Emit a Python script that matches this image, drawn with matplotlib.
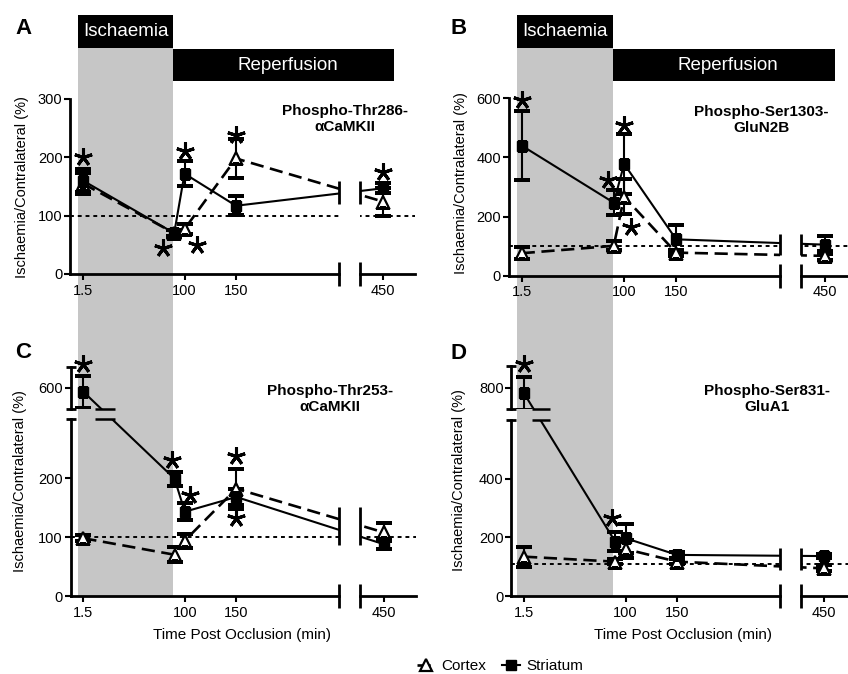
import numpy as np
import matplotlib.pyplot as plt
from matplotlib.patches import Rectangle
from matplotlib.path import Path
from matplotlib.transforms import blended_transform_factory

plt.rcParams['font.family'] = ['Liberation Sans', 'DejaVu Sans']

# time points (min post occlusion)
times = [1.5, 90, 100, 150, 450]
time_ticks = [1.5, 100, 150, 450]
time_labels = ['1.5', '100', '150', '450']

# A: Phospho-Thr286-aCaMKII
a_striatum = [160, 70, 172, 117, 147]
a_striatum_err = [20, 6, 22, 16, 9]
a_cortex = [155, 70, 77, 198, 124]
a_cortex_err = [18, 5, 8, 33, 24]
a_star_x = [1.5, 79, 100, 112, 150, 450]
a_star_y = [201, 45, 210, 50, 238, 174]

# B: Phospho-Ser1303-GluN2B
b_striatum = [440, 247, 378, 123, 105]
b_striatum_err = [118, 43, 100, 50, 30]
b_cortex = [76, 101, 267, 78, 67]
b_cortex_err = [20, 15, 60, 10, 15]
b_star_x = [1.5, 84, 100, 107]
b_star_y = [594, 324, 510, 166]

# C: Phospho-Thr253-aCaMKII
c_striatum = [593, 199, 143, 168, 88]
c_striatum_err = [27, 12, 14, 14, 8]
c_cortex = [98, 70, 94, 182, 108]
c_cortex_err = [5, 13, 12, 34, 15]
c_star_x = [1.5, 88, 105, 150, 150]
c_star_y = [641, 231, 172, 237, 132]

# D: Phospho-Ser831-GluA1
d_striatum = [780, 185, 197, 140, 136]
d_striatum_err = [57, 32, 50, 10, 8]
d_cortex = [134, 117, 160, 117, 94]
d_cortex_err = [34, 8, 30, 8, 10]
d_star_x = [1.5, 87]
d_star_y = [880, 265]

W, H = 848, 674
gray = '#c6c6c6'
fig = plt.figure(figsize=(W / 100, H / 100), dpi=100)


def make_break(lo, hi, gap):
    # squeeze the range lo..hi into a small gap on the axis
    def fwd(v):
        v = np.asarray(v, dtype=float)
        return np.where(v <= lo, v, np.where(v >= hi, v - (hi - lo) + gap,
                                              lo + (v - lo) * gap / (hi - lo)))

    def inv(u):
        u = np.asarray(u, dtype=float)
        return np.where(u <= lo, u, np.where(u >= lo + gap, u + (hi - lo) - gap,
                                              lo + (u - lo) * (hi - lo) / gap))
    return fwd, inv


def place(left, top, w, h):
    ax = fig.add_axes([left / W, 1 - (top + h) / H, w / W, h / H])
    ax.patch.set_visible(False)
    return ax


XMIN, XMAX = -11, 481
XGAP = (250, 345)


def panel(ax, striatum, striatum_err, cortex, cortex_err, star_x, star_y,
          yticks, ymax, ref, caps, ybreak=None, bar_x=None):
    ax.set_xscale('function', functions=make_break(250, 450, 43))
    ax.set_xlim(XMIN, XMAX)
    if ybreak:
        ax.set_yscale('function', functions=make_break(*ybreak))
    ax.set_ylim(0, ymax)

    ax.axhline(ref, color='k', lw=1.4, ls=(0, (2, 2)), zorder=1)
    ax.errorbar(times, cortex, yerr=cortex_err, fmt='none', ecolor='k',
                elinewidth=1.5, capsize=5.5, capthick=1.5, zorder=2)
    ax.errorbar(times, striatum, yerr=striatum_err, fmt='none', ecolor='k',
                elinewidth=1.5, capsize=5.5, capthick=1.5, zorder=2)
    lc, = ax.plot(times, cortex, color='k', ls=(0, (5, 2.5)), lw=1.9,
                  marker='^', ms=8.5, mfc='white', mec='k', mew=1.6,
                  zorder=3, label='Cortex')
    ls_, = ax.plot(times, striatum, color='k', ls='-', lw=1.5, marker='s',
                   ms=7, zorder=4, label='Striatum')

    # cut the data at the axis breaks
    yr = [(-5000, 5000)] if ybreak is None else [(-5000, ybreak[0]), (ybreak[1], 5000)]
    rects = [Path([(x0, y0), (x1, y0), (x1, y1), (x0, y1), (x0, y0)], closed=True)
             for x0, x1 in [(-5000, XGAP[0]), (XGAP[1], 5000)] for y0, y1 in yr]
    clip = Path.make_compound_path(*rects)
    for art in ax.lines + list(ax.collections):
        art.set_clip_path(clip, ax.transData)

    ax.plot(star_x, star_y, ls='none', marker=(5, 2, 0), ms=13, mew=2.2,
            color='k', clip_on=False, zorder=6)

    # hand-drawn axes with breaks
    for sp in ax.spines.values():
        sp.set_visible(False)
    ax.plot([XMIN, XGAP[0]], [0, 0], 'k-', lw=2, clip_on=False)
    ax.plot([XGAP[1], XMAX], [0, 0], 'k-', lw=2, clip_on=False)
    ax.plot(XGAP, [0, 0], ls='none', marker='|', ms=17, mew=2, color='k', clip_on=False)
    ax.vlines(XGAP, caps[0], caps[1], colors='k', lw=2, clip_on=False)
    if ybreak is None:
        ax.plot([XMIN, XMIN], [0, ymax], 'k-', lw=2, clip_on=False)
    else:
        ax.plot([XMIN, XMIN], [0, ybreak[0]], 'k-', lw=2, clip_on=False)
        ax.plot([XMIN, XMIN], [ybreak[1], ymax], 'k-', lw=2, clip_on=False)
        ax.plot([XMIN] * 3, [ybreak[0], ybreak[1], ymax], ls='none', marker='_',
                ms=7, mew=2, color='k', clip_on=False)
        ax.hlines(ybreak[:2], bar_x[0], bar_x[1], colors='k', lw=1.8, clip_on=False)

    ax.set_xticks(time_ticks)
    ax.set_xticklabels(time_labels)
    ax.minorticks_off()
    ax.set_yticks(yticks)
    ax.tick_params(direction='out', length=4, width=1.5, labelsize=10.5, pad=1.5)
    ax.tick_params(axis='x', pad=3)
    return lc, ls_


axA = place(70.2, 99, 345, 175)
axB = place(508.7, 98.3, 348.4, 177.4)
axC = place(70.5, 366.7, 345, 229.3)
axD = place(511.2, 366, 345, 230)

lc, ls_ = panel(axA, a_striatum, a_striatum_err, a_cortex, a_cortex_err,
                a_star_x, a_star_y, [0, 100, 200, 300], 300, 100, (120, 160))
panel(axB, b_striatum, b_striatum_err, b_cortex, b_cortex_err,
      b_star_x, b_star_y, [0, 200, 400, 600], 600, 100, (70, 140))
panel(axC, c_striatum, c_striatum_err, c_cortex, c_cortex_err,
      c_star_x, c_star_y, [0, 100, 200, 600], 635.6, 100, (86, 151),
      ybreak=(300, 563, 16.4), bar_x=(13, 32))
panel(axD, d_striatum, d_striatum_err, d_cortex, d_cortex_err,
      d_star_x, d_star_y, [0, 200, 400, 800], 873.6, 110, (89, 162),
      ybreak=(600, 726, 36), bar_x=(9, 27))

# ischaemia shading and the header bars
for ax in (axA, axB):
    tr = blended_transform_factory(ax.transData, fig.transFigure)
    fig.add_artist(Rectangle((-3, 1 - 596 / H), 92, (596 - 48) / H, transform=tr,
                             facecolor=gray, edgecolor='none', zorder=-2))
    fig.add_artist(Rectangle((-3, 1 - 48 / H), 92, 33 / H, transform=tr,
                             facecolor='k', edgecolor='none', zorder=-1))
    fig.add_artist(Rectangle((89, 1 - 81 / H), 371, 32 / H, transform=tr,
                             facecolor='k', edgecolor='none', zorder=-1))
    fig.text(43, 1 - 31.5 / H, 'Ischaemia', transform=tr, color='w',
             ha='center', va='center', fontsize=13.5)
    fig.text(200, 1 - 65 / H, 'Reperfusion', transform=tr, color='w',
             ha='center', va='center', fontsize=13.5)

for s, x, y in [('A', 24, 28), ('B', 459, 28), ('C', 23, 352), ('D', 458, 353)]:
    fig.text(x / W, 1 - y / H, s, fontsize=16, fontweight='bold', ha='center', va='center')

for s, x, y in [('Phospho-Thr286-\nαCaMKII', 345, 119),
                ('Phospho-Ser1303-\nGluN2B', 761, 120),
                ('Phospho-Thr253-\nαCaMKII', 330, 399),
                ('Phospho-Ser831-\nGluA1', 767, 399)]:
    fig.text(x / W, 1 - y / H, s, fontsize=11, fontweight='bold', ha='center', va='center')

ylab = 'Ischaemia/Contralateral (%)'
for x, y in [(22, 187), (461, 183), (20, 481), (459, 480)]:
    fig.text(x / W, 1 - y / H, ylab, rotation=90, fontsize=10.5, ha='center', va='center')
for x in [242, 683]:
    fig.text(x / W, 1 - 635 / H, 'Time Post Occlusion (min)', fontsize=11,
             ha='center', va='center')

fig.legend([lc, ls_], ['Cortex', 'Striatum'], loc='center', ncol=2,
           bbox_to_anchor=(500 / W, 1 - 666 / H), frameon=False, fontsize=11,
           handlelength=1.2, handletextpad=0.4, columnspacing=1.0)

fig.savefig('out.png', dpi=100)
